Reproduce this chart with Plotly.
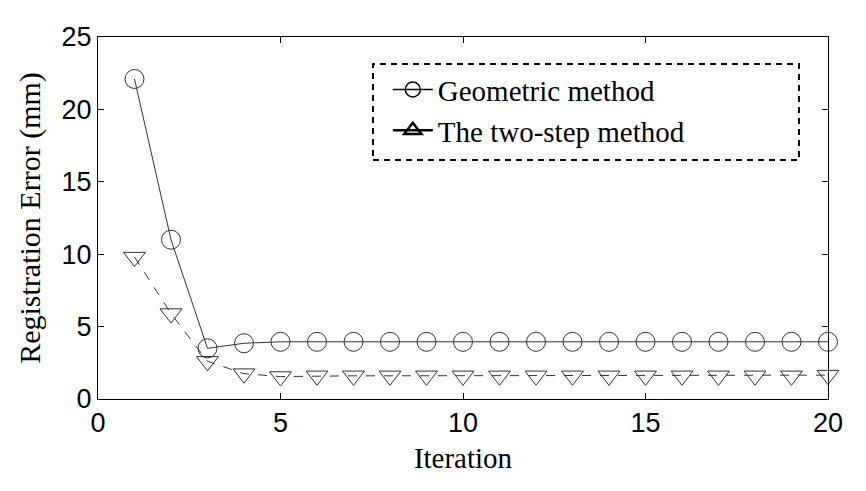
import plotly.graph_objects as go

iterations = list(range(1, 21))
geometric = [22.1, 11.0, 3.5, 3.85, 3.95, 3.95, 3.95, 3.95, 3.95, 3.95,
             3.95, 3.95, 3.95, 3.95, 3.95, 3.95, 3.95, 3.95, 3.95, 3.95]
two_step = [9.8, 5.9, 2.6, 1.75, 1.55, 1.6, 1.6, 1.6, 1.6, 1.6,
            1.6, 1.6, 1.6, 1.6, 1.6, 1.6, 1.6, 1.6, 1.6, 1.65]
x_ticks = [0, 5, 10, 15, 20]
y_ticks = [0, 5, 10, 15, 20, 25]
series_names = ["Geometric method", "The two-step method"]

serif = "Liberation Serif, Times New Roman, serif"
sans = "Liberation Sans, Arial, sans-serif"

fig = go.Figure()
fig.add_trace(go.Scatter(
    x=iterations, y=geometric, mode="lines+markers", showlegend=False,
    line=dict(color="#333333", width=1),
    marker=dict(symbol="circle-open", size=19, color="#333333", line=dict(width=1)),
    cliponaxis=False))
fig.add_trace(go.Scatter(
    x=iterations, y=two_step, mode="lines+markers", showlegend=False,
    line=dict(color="#333333", width=1, dash="9px,9px"),
    marker=dict(symbol="triangle-down-open", size=19, color="#333333", line=dict(width=1)),
    cliponaxis=False))
# legend entries
fig.add_trace(go.Scatter(
    x=[None], y=[None], mode="lines+markers", name=series_names[0],
    line=dict(color="black", width=1.5),
    marker=dict(symbol="circle-open", size=15, color="black", line=dict(width=1.5))))
fig.add_trace(go.Scatter(
    x=[None], y=[None], mode="lines+markers", name=series_names[1],
    line=dict(color="black", width=2.5),
    marker=dict(symbol="triangle-up-open", size=15, color="black", line=dict(width=2.5))))

fig.update_layout(
    width=866, height=491,
    margin=dict(l=90, r=46, t=29, b=100),
    paper_bgcolor="white", plot_bgcolor="white",
    showlegend=True,
    legend=dict(x=0.397, y=0.925, xanchor="left", yanchor="top",
                font=dict(family=serif, size=29, color="black"),
                bgcolor="rgba(0,0,0,0)", tracegroupgap=0, itemwidth=40),
    xaxis=dict(range=[0, 20], tickvals=x_ticks, ticks="inside", ticklen=6,
               tickcolor="black", showline=True, linecolor="black", linewidth=1,
               mirror="ticks", showgrid=False, zeroline=False,
               tickfont=dict(family=sans, size=27, color="black"),
               title=dict(text="Iteration", font=dict(family=serif, size=29, color="black"),
                          standoff=10)),
    yaxis=dict(range=[0, 25], tickvals=y_ticks, ticks="inside", ticklen=6,
               tickcolor="black", showline=True, linecolor="black", linewidth=1,
               mirror="ticks", showgrid=False, zeroline=False,
               tickfont=dict(family=sans, size=27, color="black"),
               title=dict(text="Registration Error (mm)",
                          font=dict(family=serif, size=30, color="black"), standoff=12)),
    shapes=[dict(type="rect", xref="paper", yref="paper",
                 x0=(373 - 98) / 730, x1=(799 - 98) / 730,
                 y0=(399 - 160) / 362, y1=(399 - 64) / 362,
                 line=dict(color="black", width=2, dash="6px,5px"))],
)

fig.write_html("out.html")
